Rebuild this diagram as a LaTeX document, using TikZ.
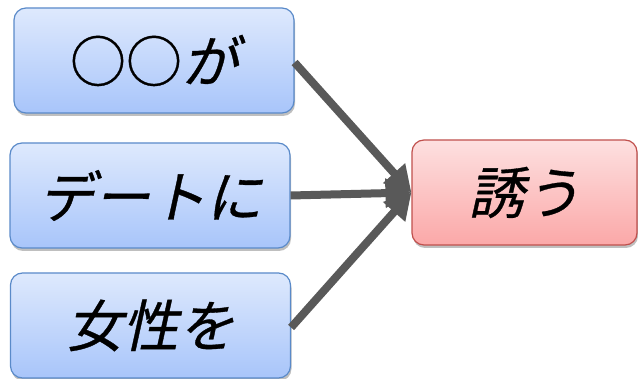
\documentclass[tikz,border=0pt]{standalone}
\usepackage{fontspec}
\newfontfamily\jp[FakeSlant=0.22,FakeBold=0.6]{Noto Sans CJK JP}
\newfontfamily\jpup[FakeBold=0.6]{Noto Sans CJK JP}
\usetikzlibrary{arrows.meta,shadows}
\definecolor{bluetop}{HTML}{DEE9FD}
\definecolor{bluebot}{HTML}{A8C5FA}
\definecolor{blueedge}{HTML}{5A8AC9}
\definecolor{redtop}{HTML}{FDE0E0}
\definecolor{redbot}{HTML}{FBA8A8}
\definecolor{rededge}{HTML}{C0504D}
\definecolor{arrowgray}{HTML}{595959}
\tikzset{
  box/.style={rounded corners=12pt, line width=1.2pt, minimum height=105pt,
    font=\jp\fontsize{56}{56}\selectfont, inner sep=0pt,
    drop shadow={shadow xshift=1pt, shadow yshift=-3pt, opacity=0.25, fill=black}},
  bluebox/.style={box, draw=blueedge, top color=bluetop, bottom color=bluebot, minimum width=280pt},
  redbox/.style={box, draw=rededge, top color=redtop, bottom color=redbot, minimum width=225pt},
  conn/.style={draw=arrowgray, line width=8pt, -{Triangle[length=26pt,width=28pt]}}
}
\begin{document}
\begin{tikzpicture}[x=1pt,y=-1pt]
\useasboundingbox (0,0) rectangle (638,379);
\node[bluebox] (a) at (154,60.5) {{\jpup ○○}が};
\node[bluebox] (b) at (150,195.5) {デートに};
\node[bluebox] (c) at (150.5,325.5) {女性を};
\node[redbox] (d) at (524.5,192.5) {誘う};
\draw[conn] ([yshift=-2pt]a.east) -- (d.west);
\draw[conn] (b.east) -- (d.west);
\draw[conn] ([yshift=-2pt]c.east) -- (d.west);
\end{tikzpicture}
\end{document}
